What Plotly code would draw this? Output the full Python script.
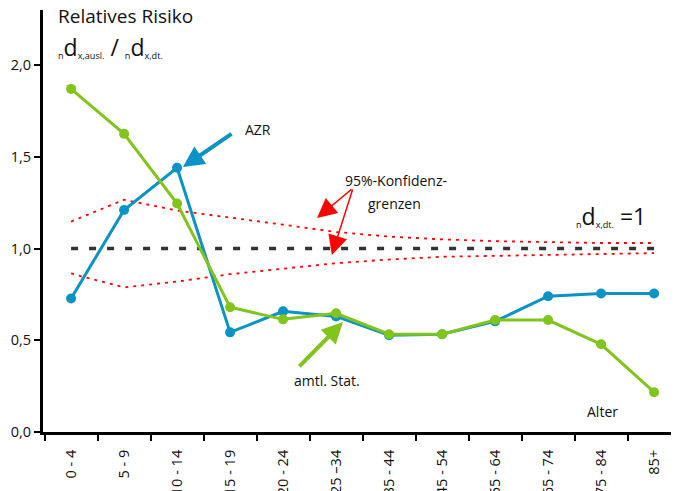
import plotly.graph_objects as go

categories = ["0 - 4", "5 - 9", "10 - 14", "15 - 19", "20 - 24", "25 –34",
              "35 - 44", "45 - 54", "55 - 64", "65 - 74", "75 - 84", "85+"]
azr = [0.728, 1.21, 1.44, 0.543, 0.658, 0.63, 0.527, 0.533, 0.603, 0.74, 0.755, 0.755]
amtl = [1.87, 1.625, 1.245, 0.68, 0.614, 0.647, 0.533, 0.533, 0.61, 0.61, 0.478, 0.217]
ki_upper = [1.147, 1.266, 1.207, 1.17, 1.13, 1.09, 1.065, 1.05, 1.04, 1.035, 1.03, 1.03]
ki_lower = [0.864, 0.788, 0.82, 0.86, 0.89, 0.92, 0.94, 0.955, 0.96, 0.965, 0.97, 0.975]
reference = [1.0] * len(categories)
y_ticks = [0.0, 0.5, 1.0, 1.5, 2.0]

BLUE = "#0a93c4"
GREEN = "#80c41c"
RED = "#ff0000"
FONT = "Open Sans"

fig = go.Figure()
fig.add_trace(go.Scatter(x=categories, y=ki_upper, mode="lines",
                         line=dict(color=RED, width=1.8, dash="3px,5px"), hoverinfo="skip"))
fig.add_trace(go.Scatter(x=categories, y=ki_lower, mode="lines",
                         line=dict(color=RED, width=1.8, dash="3px,5px"), hoverinfo="skip"))
fig.add_trace(go.Scatter(x=categories, y=reference, mode="lines",
                         line=dict(color="#333333", width=3.5, dash="7px,11px")))
fig.add_trace(go.Scatter(x=categories, y=azr, mode="lines+markers", name="AZR",
                         line=dict(color=BLUE, width=3), marker=dict(size=10, color=BLUE)))
fig.add_trace(go.Scatter(x=categories, y=amtl, mode="lines+markers", name="amtl. Stat.",
                         line=dict(color=GREEN, width=3), marker=dict(size=10, color=GREEN)))

ann = []
def text(x, y, t, size=14, xanchor="left"):
    ann.append(dict(x=x, y=y, xref="x", yref="y", text=t, showarrow=False,
                    xanchor=xanchor, yanchor="middle", font=dict(size=size, color="#111", family=FONT)))

def arrow(x, y, ax, ay, color, width, size):
    ann.append(dict(x=x, y=y, xref="x", yref="y", ax=ax, ay=ay, axref="x", ayref="y",
                    text="", showarrow=True, arrowhead=2, arrowcolor=color,
                    arrowwidth=width, arrowsize=size, standoff=0))

text(-0.29, 2.265, "Relatives Risiko", size=19)
text(-0.29, 2.10, "<sub>n</sub><span style='font-size:23px'>d</span><sub>x,ausl.</sub>"
     "<span style='font-size:23px'> / </span><sub>n</sub><span style='font-size:23px'>d</span><sub>x,dt.</sub>", size=13)
text(3.24, 1.651, "AZR")
arrow(2.11, 1.444, 3.055, 1.63, BLUE, 4, 1.05)
text(5.13, 1.373, "95%-Konfidenz-")
text(5.56, 1.248, "grenzen")
arrow(4.64, 1.166, 5.32, 1.33, RED, 1.5, 2.6)
arrow(4.92, 0.965, 5.32, 1.33, RED, 1.5, 2.6)
text(9.49, 1.18, "<sub>n</sub><span style='font-size:23px'>d</span><sub>x,dt.</sub>"
     "<span style='font-size:23px'> =1</span>", size=13)
text(4.17, 0.278, "amtl. Stat.")
arrow(5.13, 0.599, 4.28, 0.349, GREEN, 4, 1.05)
text(10.02, 0.114, "Alter", xanchor="center")

fig.update_layout(
    width=679, height=491,
    margin=dict(l=35, r=8, t=2, b=67),
    paper_bgcolor="white", plot_bgcolor="white",
    showlegend=False,
    separators=",.",
    font=dict(family=FONT, size=14, color="#111"),
    annotations=ann,
)
fig.update_xaxes(type="category", categoryorder="array", categoryarray=categories,
                 range=[-0.53, 11.47], tickson="boundaries", ticks="outside", ticklen=6,
                 tickwidth=2, tickcolor="black", showline=True, linecolor="black", linewidth=3,
                 showgrid=False, zeroline=False, tickangle=-90, ticklabelstandoff=9,
                 automargin=False, tickfont=dict(size=14.5, family=FONT))
fig.update_yaxes(range=[0, 2.3], tickvals=y_ticks, tickformat=".1f", ticks="outside", ticklen=6,
                 tickwidth=2, tickcolor="black", showline=True, linecolor="black", linewidth=3,
                 showgrid=False, zeroline=False, automargin=False, tickfont=dict(size=14.5, family=FONT))

fig.write_html("out.html")
